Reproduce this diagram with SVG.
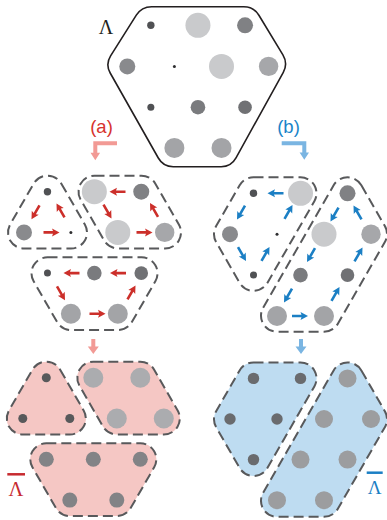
<svg xmlns="http://www.w3.org/2000/svg" xmlns:xlink="http://www.w3.org/1999/xlink" width="387" height="520" viewBox="0 0 387 520">
<style>
.grp{fill:none;stroke:#58595b;stroke-width:2;stroke-dasharray:10 5}
.pk{fill:#f5c7c4}
.bl{fill:#bedcf1}
.s{fill:#505154}.t{fill:#2e2e30}.L{fill:#c9cacc}.m1{fill:#808184}.m2{fill:#898a8d}.m3{fill:#a6a7aa}.m4{fill:#7a7b7e}.m5{fill:#707174}.m6{fill:#a3a4a7}
.ra{fill:#cc2f2a}.ba{fill:#1b7fc4}
.lbl{font-family:"Liberation Sans",Arial,sans-serif;font-size:18.5px;text-anchor:middle}
.lam{font-family:"Liberation Serif","Times New Roman",serif;text-anchor:middle}
</style>
<defs>
<path id="triA" d="M37.36,-8 L60.86,32.8 A16,16 0 0 1 47,56.8 L0,56.8 A16,16 0 0 1 -13.86,32.8 L9.64,-8 A16,16 0 0 1 37.36,-8 Z"/>
<path id="parA" d="M70.5,-16 L117.5,-16 A16,16 0 0 1 131.36,-8 L154.86,32.8 A16,16 0 0 1 141,56.8 L94,56.8 A16,16 0 0 1 80.14,48.8 L56.64,8 A16,16 0 0 1 70.5,-16 Z"/>
<path id="trapA" d="M23.5,65.6 L117.5,65.6 A16,16 0 0 1 131.36,89.6 L107.86,130.4 A16,16 0 0 1 94,138.4 L47,138.4 A16,16 0 0 1 33.14,130.4 L9.64,89.6 A16,16 0 0 1 23.5,65.6 Z"/>
<path id="quadB" d="M23.5,-16 L70.5,-16 A16,16 0 0 1 84.36,8 L37.36,89.6 A16,16 0 0 1 9.64,89.6 L-13.86,48.8 A16,16 0 0 1 -13.86,32.8 L9.64,-8 A16,16 0 0 1 23.5,-16 Z"/>
<path id="parB" d="M131.36,-8 L154.86,32.8 A16,16 0 0 1 154.86,48.8 L107.86,130.4 A16,16 0 0 1 94,138.4 L47,138.4 A16,16 0 0 1 33.14,114.4 L103.64,-8 A16,16 0 0 1 131.36,-8 Z"/>
<path id="ar" d="M8,0 L0.5,-4 L1.5,-1.3 L-8,-1.3 L-8,1.3 L1.5,1.3 L0.5,4 Z"/>
</defs>

<g id="lattice-top">
<path d="M151.6,6.7 L243.7,6.7 Q253.7,6.7 258.9,15.25 L282.9,54.95 Q288.1,63.5 283.3,72.26 L236,157.9 Q231.2,166.7 221.2,166.7 L173.2,166.7 Q163.2,166.7 158.3,158 L110.2,73 Q105.3,64.3 110.6,55.84 L136.3,15.16 Q141.6,6.7 151.6,6.7 Z" fill="none" stroke="#231f20" stroke-width="1.6"/>
<circle class="s" cx="150.85" cy="25.3" r="3.7"/>
<circle class="L" cx="197.95" cy="25.3" r="12.5"/>
<circle class="m1" cx="245.05" cy="25.3" r="8"/>
<circle class="m2" cx="127.3" cy="66.4" r="8"/>
<circle class="t" cx="174.4" cy="66.4" r="1.5"/>
<circle class="L" cx="221.5" cy="66.4" r="12.5"/>
<circle class="m3" cx="268.6" cy="66.4" r="9.7"/>
<circle class="s" cx="150.85" cy="107.2" r="3.5"/>
<circle class="m4" cx="197.95" cy="107.2" r="7.3"/>
<circle class="m5" cx="245.05" cy="107.2" r="6.8"/>
<circle class="m6" cx="174.4" cy="147.9" r="10"/>
<circle class="m6" cx="221.5" cy="147.9" r="10"/>
<text class="lam" x="106" y="34.3" font-size="20" fill="#231f20">Λ</text>
</g>

<g id="label-a"><text class="lbl" x="101.5" y="133" fill="#d7332e">(a)</text></g>
<g id="label-b"><text class="lbl" x="288.5" y="133" fill="#1a85c9">(b)</text></g>

<g id="a-mid-tri">
<use xlink:href="#triA" href="#triA" class="grp" transform="translate(24,191.7)"/>
<circle class="s" cx="47.45" cy="191.7" r="3.7"/>
<circle class="m2" cx="24" cy="232.4" r="8"/>
<circle class="t" cx="70.9" cy="232.4" r="1.5"/>
</g>
<g id="a-mid-par">
<use xlink:href="#parA" href="#parA" class="grp" transform="translate(24,191.7)"/>
<circle class="L" cx="94.35" cy="191.7" r="12.5"/>
<circle class="m1" cx="141.25" cy="191.7" r="8"/>
<circle class="L" cx="117.8" cy="232.4" r="12.5"/>
<circle class="m3" cx="164.7" cy="232.4" r="9.7"/>
</g>
<g id="a-mid-trap">
<use xlink:href="#trapA" href="#trapA" class="grp" transform="translate(24,191.7)"/>
<circle class="s" cx="47.45" cy="273.1" r="3.5"/>
<circle class="m4" cx="94.35" cy="273.1" r="7.3"/>
<circle class="m5" cx="141.25" cy="273.1" r="6.8"/>
<circle class="m6" cx="70.9" cy="313.8" r="10"/>
<circle class="m6" cx="117.8" cy="313.8" r="10"/>
</g>

<g id="b-mid-quad">
<use xlink:href="#quadB" href="#quadB" class="grp" transform="translate(230,193.3)"/>
<circle class="s" cx="253.5" cy="193.3" r="3.7"/>
<circle class="L" cx="300.5" cy="193.3" r="12.5"/>
<circle class="m2" cx="230" cy="234.2" r="8"/>
<circle class="t" cx="277" cy="234.2" r="1.5"/>
<circle class="s" cx="253.5" cy="275.1" r="3.5"/>
</g>
<g id="b-mid-par">
<use xlink:href="#parB" href="#parB" class="grp" transform="translate(230,193.3)"/>
<circle class="m1" cx="347.5" cy="193.3" r="8"/>
<circle class="L" cx="324" cy="234.2" r="12.5"/>
<circle class="m3" cx="371" cy="234.2" r="9.7"/>
<circle class="m4" cx="300.5" cy="275.1" r="7.3"/>
<circle class="m5" cx="347.5" cy="275.1" r="6.8"/>
<circle class="m6" cx="277" cy="316" r="10"/>
<circle class="m6" cx="324" cy="316" r="10"/>
</g>

<g id="a-bot-tri">
<use xlink:href="#triA" href="#triA" class="pk" transform="translate(22.8,377.7)"/>
<use xlink:href="#triA" href="#triA" class="grp" transform="translate(22.8,377.7)"/>
<g fill="#58595b"><circle cx="46.3" cy="377.7" r="4.5"/><circle cx="22.8" cy="418.5" r="4.5"/><circle cx="69.8" cy="418.5" r="4.5"/></g>
</g>
<g id="a-bot-par">
<use xlink:href="#parA" href="#parA" class="pk" transform="translate(22.8,377.7)"/>
<use xlink:href="#parA" href="#parA" class="grp" transform="translate(22.8,377.7)"/>
<g fill="#abacaf"><circle cx="93.3" cy="377.7" r="10"/><circle cx="140.3" cy="377.7" r="10"/><circle cx="116.8" cy="418.5" r="10"/><circle cx="163.8" cy="418.5" r="10"/></g>
</g>
<g id="a-bot-trap">
<use xlink:href="#trapA" href="#trapA" class="pk" transform="translate(22.8,377.7)"/>
<use xlink:href="#trapA" href="#trapA" class="grp" transform="translate(22.8,377.7)"/>
<g fill="#828386"><circle cx="46.3" cy="459.3" r="7.5"/><circle cx="93.3" cy="459.3" r="7.5"/><circle cx="140.3" cy="459.3" r="7.5"/><circle cx="69.8" cy="500.1" r="7.5"/><circle cx="116.8" cy="500.1" r="7.5"/></g>
</g>

<g id="b-bot-quad">
<use xlink:href="#quadB" href="#quadB" class="bl" transform="translate(230,378.4)"/>
<use xlink:href="#quadB" href="#quadB" class="grp" transform="translate(230,378.4)"/>
<g fill="#6a6b6e"><circle cx="253.5" cy="378.4" r="5.7"/><circle cx="300.5" cy="378.4" r="5.7"/><circle cx="230" cy="419" r="5.7"/><circle cx="277" cy="419" r="5.7"/><circle cx="253.5" cy="459.6" r="5.7"/></g>
</g>
<g id="b-bot-par">
<use xlink:href="#parB" href="#parB" class="bl" transform="translate(230,378.4)"/>
<use xlink:href="#parB" href="#parB" class="grp" transform="translate(230,378.4)"/>
<g fill="#9c9d9f"><circle cx="347.5" cy="378.4" r="9"/><circle cx="324" cy="419" r="9"/><circle cx="371" cy="419" r="9"/><circle cx="300.5" cy="459.6" r="9"/><circle cx="347.5" cy="459.6" r="9"/><circle cx="277" cy="500.2" r="9"/><circle cx="324" cy="500.2" r="9"/></g>
</g>

<g id="label-lambda-bar-a">
<line x1="7.3" y1="474.3" x2="25" y2="474.3" stroke="#c72a2f" stroke-width="2.5"/>
<text class="lam" x="16" y="495.7" font-size="20.5" fill="#c72a2f">Λ</text>
</g>
<g id="label-lambda-bar-b">
<line x1="366.7" y1="472.7" x2="382.7" y2="472.7" stroke="#1b7fc4" stroke-width="2.5"/>
<text class="lam" x="374.7" y="493.5" font-size="19" fill="#1b7fc4">Λ</text>
</g>

<g id="connectors">
<path d="M117,141.3 L93.3,141.3 L93.3,152.7 L90.5,152.7 L95.3,160.3 L100.1,152.7 L97.3,152.7 L97.3,145.3 L117,145.3 Z" fill="#f29a95"/>
<path d="M281.7,141.3 L306.3,141.3 L306.3,152.5 L309,152.5 L304.3,159.8 L299.6,152.5 L302.3,152.5 L302.3,145.3 L281.7,145.3 Z" fill="#7ab5e2"/>
<path d="M91.3,339 L95.3,339 L95.3,346.5 L98.8,346.5 L93.3,354 L87.8,346.5 L91.3,346.5 Z" fill="#f29a95"/>
<path d="M299,339 L303,339 L303,346.5 L306.5,346.5 L301,354 L295.5,346.5 L299,346.5 Z" fill="#7ab5e2"/>
<g class="ra">
<use xlink:href="#ar" href="#ar" transform="translate(35.5,212.3) rotate(120)"/>
<use xlink:href="#ar" href="#ar" transform="translate(51.5,232.4) rotate(0)"/>
<use xlink:href="#ar" href="#ar" transform="translate(60.5,210.5) rotate(240)"/>
<use xlink:href="#ar" href="#ar" transform="translate(117.5,191.7) rotate(180)"/>
<use xlink:href="#ar" href="#ar" transform="translate(107.5,211.5) rotate(60)"/>
<use xlink:href="#ar" href="#ar" transform="translate(144.5,232.4) rotate(0)"/>
<use xlink:href="#ar" href="#ar" transform="translate(154,210) rotate(240)"/>
<use xlink:href="#ar" href="#ar" transform="translate(71.5,273.1) rotate(180)"/>
<use xlink:href="#ar" href="#ar" transform="translate(118,273.1) rotate(180)"/>
<use xlink:href="#ar" href="#ar" transform="translate(61,293.3) rotate(60)"/>
<use xlink:href="#ar" href="#ar" transform="translate(97.5,313.8) rotate(0)"/>
<use xlink:href="#ar" href="#ar" transform="translate(131.5,292.5) rotate(300)"/>
</g>
<g class="ba">
<use xlink:href="#ar" href="#ar" transform="translate(275.5,193.3) rotate(180)"/>
<use xlink:href="#ar" href="#ar" transform="translate(241,212.5) rotate(120)"/>
<use xlink:href="#ar" href="#ar" transform="translate(242,254) rotate(60)"/>
<use xlink:href="#ar" href="#ar" transform="translate(265.5,254) rotate(300)"/>
<use xlink:href="#ar" href="#ar" transform="translate(288.5,212) rotate(300)"/>
<use xlink:href="#ar" href="#ar" transform="translate(334.5,214.5) rotate(120)"/>
<use xlink:href="#ar" href="#ar" transform="translate(311,255) rotate(120)"/>
<use xlink:href="#ar" href="#ar" transform="translate(288,295.5) rotate(120)"/>
<use xlink:href="#ar" href="#ar" transform="translate(300,316) rotate(0)"/>
<use xlink:href="#ar" href="#ar" transform="translate(335.5,294) rotate(300)"/>
<use xlink:href="#ar" href="#ar" transform="translate(358.5,254.5) rotate(300)"/>
<use xlink:href="#ar" href="#ar" transform="translate(357.5,212.5) rotate(240)"/>
</g>
</g>
</svg>
